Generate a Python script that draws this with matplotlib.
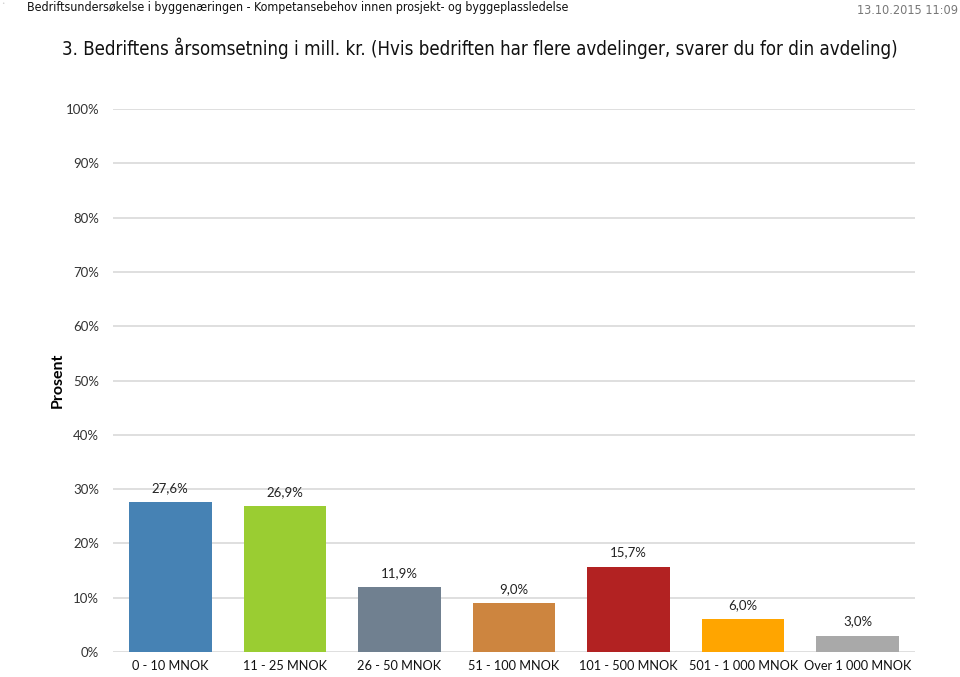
import matplotlib
matplotlib.use("Agg")
import matplotlib.pyplot as plt
import matplotlib.font_manager as fm
from matplotlib.font_manager import FontProperties

categories = ["0 - 10 MNOK", "11 - 25 MNOK", "26 - 50 MNOK", "51 - 100 MNOK",
              "101 - 500 MNOK", "501 - 1 000 MNOK", "Over 1 000 MNOK"]
values = [27.6, 26.9, 11.9, 9.0, 15.7, 6.0, 3.0]
colors = ["#4682B4", "#9ACD32", "#708090", "#CD853F", "#B22222", "#FFA500", "#A9A9A9"]
yticks = [0, 10, 20, 30, 40, 50, 60, 70, 80, 90, 100]

header = "Bedriftsundersøkelse i byggenæringen - Kompetansebehov innen prosjekt- og byggeplassledelse"
date = "13.10.2015 11:09"
title = "3. Bedriftens årsomsetning i mill. kr. (Hvis bedriften har flere avdelinger, svarer du for din avdeling)"

# find a condensed / narrow font if any installed
narrow_file = None
for f in fm.fontManager.ttflist:
    n = f.name.lower()
    st = str(f.stretch).lower()
    if ("narrow" in n or "condensed" in n or "condensed" in st or "narrow" in st) and f.weight in (400, "normal", "regular") and f.style == "normal":
        narrow_file = f.fname
        break
if narrow_file:
    narrow_fp = FontProperties(fname=narrow_file)
else:
    narrow_fp = FontProperties(family="Roboto")

body = "Lato"

fig = plt.figure(figsize=(9.6, 6.77), dpi=100)
ax = fig.add_axes([113/960, 1-652/677, (915-113)/960, (652-109)/677])

x = range(len(categories))
ax.bar(x, values, width=0.72, color=colors, zorder=3)
for xi, v in zip(x, values):
    ax.text(xi, v + 1.5, f"{v:.1f}%".replace(".", ","), ha="center", va="bottom",
            fontsize=9.5, family=body, color="#222222")

ax.set_xlim(-0.5, len(categories) - 0.5)
ax.set_ylim(0, 100)
ax.set_yticks(yticks)
ax.set_yticklabels([f"{t}%" for t in yticks], family=body, fontsize=9.5, color="#333333")
ax.set_xticks(list(x))
ax.set_xticklabels(categories, family=body, fontsize=9.2, color="#111111")
ax.tick_params(axis="y", length=0, pad=10)
ax.tick_params(axis="x", length=0, pad=6)
ax.yaxis.grid(True, color="#D9D9D9", linewidth=1.2, zorder=0)
for s in ax.spines.values():
    s.set_visible(False)
ax.set_ylabel("Prosent", family=body, fontsize=11.5, fontweight="bold")
ax.yaxis.set_label_coords((65-113)/802, 0.5)

renderer = fig.canvas.get_renderer()

def fitted(xp, yp, s, target_w, size0, ha="left", color="#111111"):
    fp = narrow_fp.copy()
    fp.set_size(size0)
    t = fig.text(xp/960, 1-yp/677, s, fontproperties=fp, va="center", ha=ha, color=color)
    w = t.get_window_extent(renderer).width
    fp.set_size(size0 * target_w / w)
    t.set_fontproperties(fp)
    return t

fig.text(3/960, 1-4/677, "•", fontsize=4, color="#D0D0D0", ha="center", va="center")
fitted(27, 7, header, 543, 9)
fitted(958, 10, date, 101, 10, ha="right", color="#777777")
fitted(62, 48, title, 833, 17)

fig.savefig("out.png", dpi=100, facecolor="white")
